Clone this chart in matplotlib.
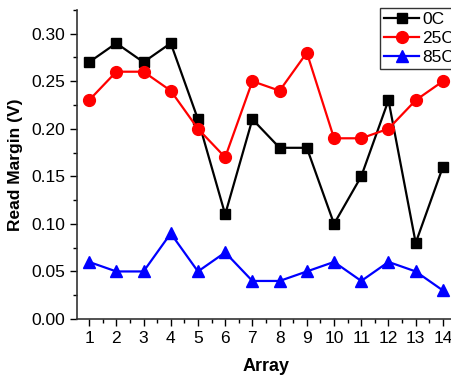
import matplotlib
matplotlib.use('Agg')
import matplotlib.pyplot as plt
from matplotlib.ticker import MultipleLocator

plt.rcParams['font.family'] = ['Liberation Sans', 'DejaVu Sans']

arrays = list(range(1, 15))
rm_0c = [0.27, 0.29, 0.27, 0.29, 0.21, 0.11, 0.21, 0.18, 0.18, 0.10, 0.15, 0.23, 0.08, 0.16]
rm_25c = [0.23, 0.26, 0.26, 0.24, 0.20, 0.17, 0.25, 0.24, 0.28, 0.19, 0.19, 0.20, 0.23, 0.25]
rm_85c = [0.06, 0.05, 0.05, 0.09, 0.05, 0.07, 0.04, 0.04, 0.05, 0.06, 0.04, 0.06, 0.05, 0.03]

fig = plt.figure(figsize=(4.52, 3.80), dpi=100)
ax = fig.add_axes([0.170, 0.1605, 0.837, 0.8135])

ax.plot(arrays, rm_0c, color='black', marker='s', markersize=7.5, linewidth=1.6, label='0C')
ax.plot(arrays, rm_25c, color='red', marker='o', markersize=8.5, linewidth=1.6, label='25C')
ax.plot(arrays, rm_85c, color='blue', marker='^', markersize=9, linewidth=1.6, label='85C')

ax.set_xlim(0.55, 14.45)
ax.set_ylim(0, 0.325)
ax.set_xticks(arrays)
ax.xaxis.set_minor_locator(MultipleLocator(0.5))
ax.yaxis.set_major_locator(MultipleLocator(0.05))
ax.yaxis.set_minor_locator(MultipleLocator(0.025))
ax.yaxis.set_major_formatter(plt.FormatStrFormatter('%.2f'))
ax.tick_params(which='both', direction='out', labelsize=12.5, width=1)
ax.tick_params(which='major', length=5)
ax.tick_params(which='minor', length=3)
ax.spines['top'].set_visible(False)
ax.spines['right'].set_visible(False)
for s in ['left', 'bottom']:
    ax.spines[s].set_linewidth(1.2)
    ax.spines[s].set_color('#333333')

ax.set_xlabel('Array', fontsize=13, fontweight='bold', labelpad=9)
ax.set_ylabel('Read Margin (V)', fontsize=12.5, fontweight='bold', labelpad=6)

leg = ax.legend(loc='upper left', bbox_to_anchor=(0.801, 1.0065), fontsize=12.5, frameon=True,
                fancybox=False, edgecolor='black', handlelength=2.0, borderpad=0.25,
                labelspacing=0.2, handletextpad=0.2, borderaxespad=0.0)
leg.get_frame().set_linewidth(1)

fig.savefig('out.png', dpi=100)
